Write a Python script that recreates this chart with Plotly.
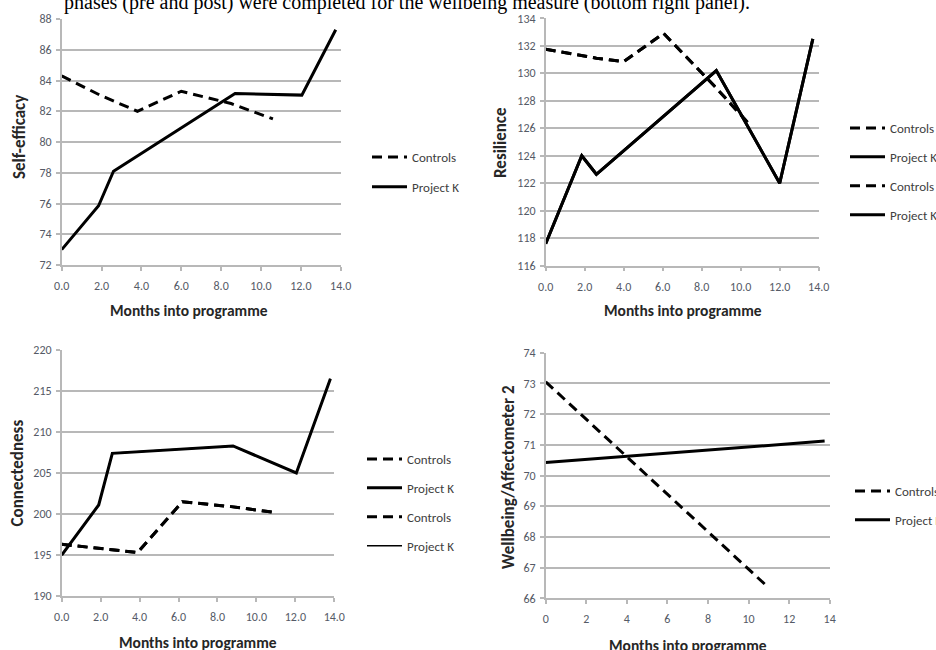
import plotly.graph_objects as go

# ---------------- data ----------------
se_pk_months = [0, 1.85, 2.6, 8.7, 12.05, 13.75]
se_pk = [73.0, 75.85, 78.1, 83.15, 83.05, 87.3]
se_ctl_months = [0, 2.0, 3.8, 6.0, 8.5, 10.6]
se_ctl = [84.3, 83.0, 82.0, 83.3, 82.5, 81.5]

res_pk_months = [0, 1.85, 2.6, 8.75, 12.0, 13.7]
res_pk = [117.6, 124.0, 122.65, 130.2, 122.0, 132.5]
res_ctl_months = [0, 2.6, 4.0, 6.05, 8.7, 10.5]
res_ctl = [131.75, 131.1, 130.85, 132.9, 129.0, 126.2]

con_pk_months = [0, 1.9, 2.6, 8.8, 12.05, 13.8]
con_pk = [195.0, 201.1, 207.4, 208.3, 205.0, 216.5]
con_ctl_months = [0, 2.0, 3.9, 6.2, 8.7, 10.9]
con_ctl = [196.3, 195.8, 195.3, 201.5, 200.9, 200.2]

wb_pk_months = [0, 13.75]
wb_pk = [70.42, 71.12]
wb_ctl_months = [0, 10.9]
wb_ctl = [73.05, 66.4]

x_ticks = [0, 2, 4, 6, 8, 10, 12, 14]
caption = "phases (pre and post) were completed for the wellbeing measure (bottom right panel)."
x_title = "Months into programme"

# ---------------- layout helpers ----------------
W, H = 936, 650
def px(x):
    return x / W
def py(y):
    return 1 - y / H

FONT = "Carlito, Lato, Open Sans, sans-serif"
TICKC = "#555a66"
AXC = "#b8b8b8"
GRIDC = "#b8b8b8"
DASH = "10px,6px"

fig = go.Figure()

def add(x, y, name, dash, xa, ya, leg, width=3):
    fig.add_trace(go.Scatter(
        x=x, y=y, mode="lines", name=name,
        line=dict(color="black", width=width, dash=dash),
        xaxis=xa, yaxis=ya, legend=leg, legendgroup=leg + name + str(width) + dash,
    ))

# panel 1
add(se_ctl_months, se_ctl, "Controls", DASH, "x", "y", "legend")
add(se_pk_months, se_pk, "Project K", "solid", "x", "y", "legend")
# panel 2
add(res_ctl_months, res_ctl, "Controls", DASH, "x2", "y2", "legend2")
add(res_pk_months, res_pk, "Project K", "solid", "x2", "y2", "legend2")
add(res_ctl_months, res_ctl, "Controls ", DASH, "x2", "y2", "legend2")
add(res_pk_months, res_pk, "Project K ", "solid", "x2", "y2", "legend2")
# panel 3
add(con_ctl_months, con_ctl, "Controls", DASH, "x3", "y3", "legend3")
add(con_pk_months, con_pk, "Project K", "solid", "x3", "y3", "legend3")
add(con_ctl_months, con_ctl, "Controls ", DASH, "x3", "y3", "legend3")
add(con_pk_months, con_pk, "Project K ", "solid", "x3", "y3", "legend3", width=1.5)
# panel 4
add(wb_ctl_months, wb_ctl, "Controls", DASH, "x4", "y4", "legend4")
add(wb_pk_months, wb_pk, "Project K", "solid", "x4", "y4", "legend4")

def xax(x0, x1, anchor, fmt):
    return dict(domain=[px(x0), px(x1)], range=[0, 14], tickvals=x_ticks,
                tickformat=fmt, anchor=anchor, showgrid=False, zeroline=False,
                showline=True, linecolor=AXC, linewidth=1.5, ticks="outside",
                ticklen=4, tickcolor=AXC, tickwidth=1.5,
                tickfont=dict(family=FONT, size=12, color=TICKC),
                ticklabelstandoff=5, fixedrange=True)

def yax(y0, y1, rng, dt, anchor):
    return dict(domain=[py(y1), py(y0)], range=rng, dtick=dt, anchor=anchor,
                showgrid=True, gridcolor=GRIDC, gridwidth=2, zeroline=False,
                showline=True, linecolor=AXC, linewidth=1.5, ticks="outside",
                ticklen=4, tickcolor=AXC, tickwidth=1.5,
                tickfont=dict(family=FONT, size=12, color=TICKC),
                ticklabelstandoff=2, fixedrange=True)

def leg(x, y, gap):
    return dict(x=px(x), y=py(y), xanchor="left", yanchor="top",
                xref="paper", yref="paper", bgcolor="rgba(0,0,0,0)",
                font=dict(family=FONT, size=13, color="#404040"),
                tracegroupgap=gap, itemwidth=35, borderwidth=0)

ann = []
def atext(text, x, y, size=15.5, angle=0, bold=True):
    ann.append(dict(text=("<b>%s</b>" % text) if bold else text, x=px(x), y=py(y),
                    xref="paper", yref="paper", showarrow=False, textangle=angle,
                    xanchor="center", yanchor="middle",
                    font=dict(family=FONT, size=size, color="#262626")))

atext(x_title, 189, 310)
atext(x_title, 683, 310)
atext(x_title, 198, 642)
atext(x_title, 688, 645)
atext("Self-efficacy", 19, 137, size=17, angle=-90)
atext("Resilience", 501, 143, size=17, angle=-90)
atext("Connectedness", 17.5, 473, size=17, angle=-90)
atext("Wellbeing/Affectometer 2", 508, 477, size=17, angle=-90)
ann.append(dict(text=caption, x=px(62), y=py(3), xref="paper", yref="paper",
                showarrow=False, xanchor="left", yanchor="middle",
                font=dict(family="Liberation Serif, Times New Roman, serif", size=20, color="black")))

fig.update_layout(
    width=W, height=H,
    margin=dict(l=0, r=0, t=0, b=0, autoexpand=False),
    paper_bgcolor="white", plot_bgcolor="white",
    showlegend=True,
    xaxis=xax(61.7, 340.7, "y", ".1f"),
    yaxis=yax(19, 265, [72, 88], 2, "x"),
    xaxis2=xax(545.7, 818.7, "y2", ".1f"),
    yaxis2=yax(18.3, 265.7, [116, 134], 2, "x2"),
    xaxis3=xax(61.7, 334.3, "y3", ".1f"),
    yaxis3=yax(350, 596, [190, 220], 5, "x3"),
    xaxis4=xax(545.7, 829.7, "y4", "d"),
    yaxis4=yax(352.7, 598.3, [66, 74], 1, "x4"),
    legend=leg(367, 142, 10),
    legend2=leg(845, 113, 9),
    legend3=leg(362, 444, 9),
    legend4=leg(850, 476, 9),
    annotations=ann,
)

fig.write_html("out.html", config={"displayModeBar": False},
               post_script="document.body.style.margin='0px';")
